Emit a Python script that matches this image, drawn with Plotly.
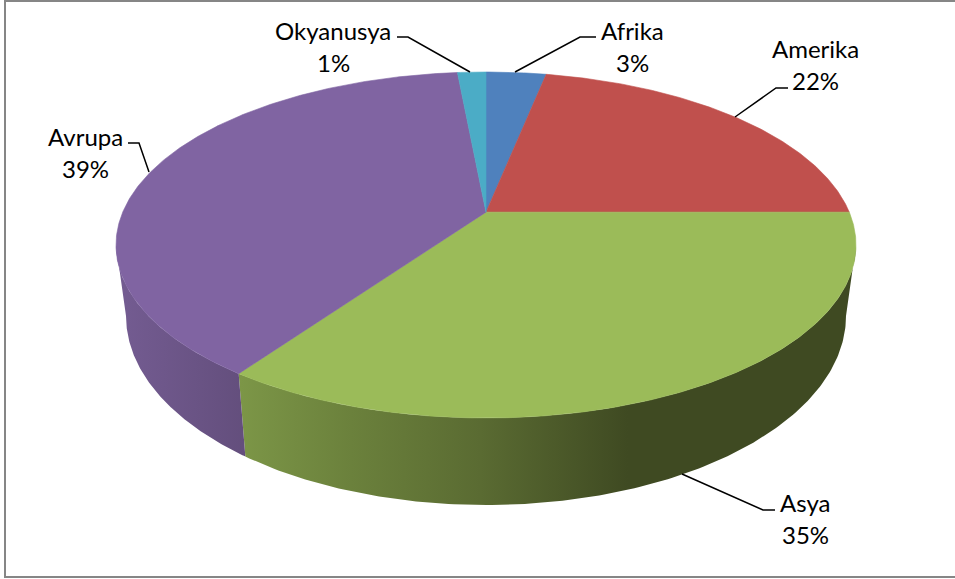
import numpy as np
import plotly.graph_objects as go

# ---- data ----
categories = ["Afrika", "Amerika", "Asya", "Avrupa", "Okyanusya"]
values = [3.15, 21.85, 34.75, 38.76, 1.49]
colors = ["#4f81bd", "#c0504d", "#9bbb59", "#8064a2", "#4bacc6"]
percent_labels = ["3%", "22%", "35%", "39%", "1%"]

# ---- perspective geometry of the pie ----
W, H = 955, 579
CX = 486
TOP = dict(cy=245.0, rx=370.0, ry=173.0)
BOTTOM = dict(cy=316.0, rx=360.0, ry=189.0)
TILT = 0.19  # vertical shift of the pie apex inside the projected ellipse


def project(theta_deg, disc):
    t = np.radians(np.asarray(theta_deg, dtype=float))
    x, y = np.sin(t), np.cos(t)
    den = 1 + TILT * y
    xp = x * np.sqrt(1 - TILT ** 2) / den
    yp = (y + TILT) / den
    return CX + disc["rx"] * xp, disc["cy"] - disc["ry"] * yp


cum = np.concatenate([[0], np.cumsum(values)]) / sum(values) * 360
SIL_R = np.degrees(np.arccos(-TILT))
SIL_L = 360 - SIL_R

fig = go.Figure()


def wall(a, b, colorscale, start, stop):
    th = np.linspace(a, b, 160)
    xt, yt = project(th, TOP)
    xb, yb = project(th[::-1], BOTTOM)
    fig.add_trace(go.Scatter(
        x=np.r_[xt, xb, xt[0]], y=np.r_[yt, yb, yt[0]],
        mode="lines", line=dict(width=0), fill="toself",
        fillgradient=dict(type="horizontal", colorscale=colorscale, start=start, stop=stop),
        hoverinfo="skip", showlegend=False))


# side walls of the two front slices
wall(SIL_R, cum[3],
     [[0, "#7c9647"], [0.18, "#6b813c"], [0.39, "#5a6b32"], [0.63, "#3f4a22"], [1, "#3f4a22"]],
     240, 856)
wall(cum[3], SIL_L,
     [[0, "#745c92"], [1, "#634e7c"]],
     116, 248)

# top faces
apex_y = TOP["cy"] - TOP["ry"] * TILT
for i, name in enumerate(categories):
    th = np.linspace(cum[i], cum[i + 1], max(8, int(cum[i + 1] - cum[i]) * 2))
    xe, ye = project(th, TOP)
    fig.add_trace(go.Scatter(
        x=np.r_[CX, xe, CX], y=np.r_[apex_y, ye, apex_y],
        mode="lines", line=dict(width=0.6, color=colors[i]),
        fill="toself", fillcolor=colors[i], name=name,
        hoverinfo="skip", showlegend=False))

# leader lines
leaders = [
    [(515, 72), (580, 37), (596, 37)],
    [(735, 117), (776, 88), (788, 88)],
    [(682, 474), (763, 510), (775, 510)],
    [(149, 172), (139, 143), (128, 143)],
    [(470, 72), (408, 37), (397, 37)],
]
for pts in leaders:
    fig.add_trace(go.Scatter(
        x=[p[0] for p in pts], y=[p[1] for p in pts], mode="lines",
        line=dict(color="#000000", width=1.5), hoverinfo="skip", showlegend=False))

# labels
label_pos = [(632, 30, 62), (815, 48, 80), (805, 502, 534), (85, 136, 168), (333, 30, 62)]
annotations = []
for name, pct, (lx, y1, y2) in zip(categories, percent_labels, label_pos):
    for txt, ly in ((name, y1), (pct, y2)):
        annotations.append(dict(x=lx, y=ly, xref="x", yref="y", text=txt, showarrow=False,
                                xanchor="center", yanchor="middle",
                                font=dict(family="Lato", size=24, color="#000000")))

frame = [
    dict(x0=5, y0=1, x1=955, y1=1),
    dict(x0=5, y0=0, x1=5, y1=578),
    dict(x0=5, y0=577, x1=955, y1=577),
]
shapes = [dict(type="line", xref="x", yref="y", line=dict(color="#868686", width=2), layer="below", **f)
          for f in frame]

fig.update_layout(
    width=W, height=H, margin=dict(l=0, r=0, t=0, b=0),
    paper_bgcolor="#ffffff", plot_bgcolor="#ffffff", showlegend=False,
    xaxis=dict(range=[0, W], visible=False, fixedrange=True),
    yaxis=dict(range=[H, 0], visible=False, fixedrange=True),
    annotations=annotations, shapes=shapes,
)
fig.write_html("out.html", config=dict(displayModeBar=False),
               post_script="document.body.style.margin='0';document.body.style.overflow='hidden';")
